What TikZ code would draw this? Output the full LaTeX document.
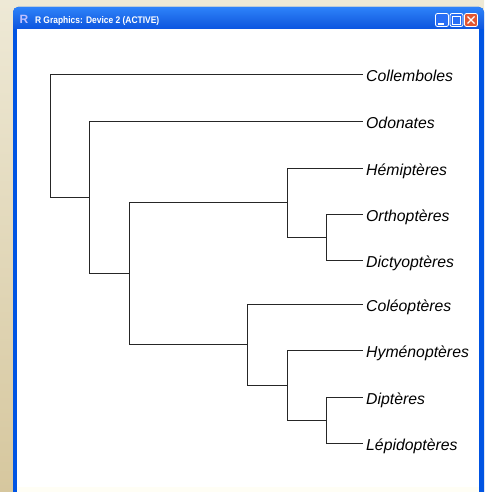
\documentclass[tikz,border=0pt]{standalone}
\usepackage{fontspec}
\setmainfont{Liberation Sans}

\definecolor{deskhi}{RGB}{238,233,214}
\definecolor{desklo}{RGB}{214,199,158}
\definecolor{xpblue}{RGB}{0,84,227}
\definecolor{xptop}{RGB}{45,130,250}
\definecolor{xpbot}{RGB}{0,72,222}
\definecolor{xpbtn}{RGB}{40,110,245}
\definecolor{xpclose}{RGB}{226,86,50}

\tikzset{
  branch/.style = {draw=black!85, line width=0.9pt},
  taxon/.style  = {anchor=base west, inner sep=0pt, xshift=3pt, yshift=-7.5pt,
                   font=\fontsize{15.8}{18}\selectfont\itshape},
  winbtn/.style = {draw=white, line width=0.8pt, rounded corners=2pt,
                   minimum size=13pt, inner sep=0pt}
}

\begin{document}
\begin{tikzpicture}[x=1pt, y=-1pt]
% desktop behind the window
\shade[top color=deskhi, bottom color=desklo] (0,0) rectangle (484,492);
\useasboundingbox (0,0) rectangle (484,492);

% window frame, title bar and drawing area
\fill[xpblue, rounded corners=5pt] (13,7) rectangle (484,500);
\shade[top color=xptop, bottom color=xpbot, middle color=xpblue!90!white,
       rounded corners=5pt] (13,7) rectangle (484,35);
\fill[xpblue] (13,29) rectangle (484,492);
\fill[white] (17,29) rectangle (479,492);
\fill[yellow!4!white] (17,487) rectangle (479,492);

\node[text=blue!25!white, font=\bfseries\fontsize{12}{12}\selectfont] (ricon) at (24,19.5) {R};
\node[anchor=base west, text=white, font=\bfseries\fontsize{9.6}{10}\selectfont] (title)
  at (31.5,24) {\scalebox{0.88}[1]{R Graphics: Device 2 (ACTIVE)}};

\node[winbtn, fill=xpbtn]   (minbtn) at (442,20) {};
\node[winbtn, fill=xpbtn]   (maxbtn) at (456.5,20) {};
\node[winbtn, fill=xpclose] (clsbtn) at (471,20) {};
\fill[white] (438,23) rectangle (444,25);
\draw[white, line width=0.8pt] (452.5,16) rectangle (460.5,24);
\draw[white, line width=1.6pt] (452.5,16.5) -- (460.5,16.5);
\draw[white, line width=1.4pt] (467.5,16.5) -- (474.5,23.5) (467.5,23.5) -- (474.5,16.5);

% tips of the tree
\foreach \name/\ypos in {coll/74, odon/121, hemi/168, orth/214, dict/260,
                        coleo/304, hyme/350, dipt/397, lepi/443}
  \coordinate (\name) at (363,\ypos);

% inner nodes
\coordinate (root) at (50,135.5);
\coordinate (n2) at (89,197);
\coordinate (n3) at (129,273);
\coordinate (n4) at (287,202.5);
\coordinate (n5) at (326,237);
\coordinate (n6) at (247,344.5);
\coordinate (n7) at (287,385);
\coordinate (n8) at (326,420);

% branches
\draw[branch] (root) |- (coll)  (root) |- (n2);
\draw[branch] (n2) |- (odon)    (n2) |- (n3);
\draw[branch] (n3) |- (n4)      (n3) |- (n6);
\draw[branch] (n4) |- (hemi)    (n4) |- (n5);
\draw[branch] (n5) |- (orth)    (n5) |- (dict);
\draw[branch] (n6) |- (coleo)   (n6) |- (n7);
\draw[branch] (n7) |- (hyme)    (n7) |- (n8);
\draw[branch] (n8) |- (dipt)    (n8) |- (lepi);

% taxon names
\node[taxon] (coll-l)  at (coll)  {Collemboles};
\node[taxon] (odon-l)  at (odon)  {Odonates};
\node[taxon] (hemi-l)  at (hemi)  {Hémiptères};
\node[taxon] (orth-l)  at (orth)  {Orthoptères};
\node[taxon] (dict-l)  at (dict)  {Dictyoptères};
\node[taxon] (coleo-l) at (coleo) {Coléoptères};
\node[taxon] (hyme-l)  at (hyme)  {Hyménoptères};
\node[taxon] (dipt-l)  at (dipt)  {Diptères};
\node[taxon] (lepi-l)  at (lepi)  {Lépidoptères};
\end{tikzpicture}
\end{document}
